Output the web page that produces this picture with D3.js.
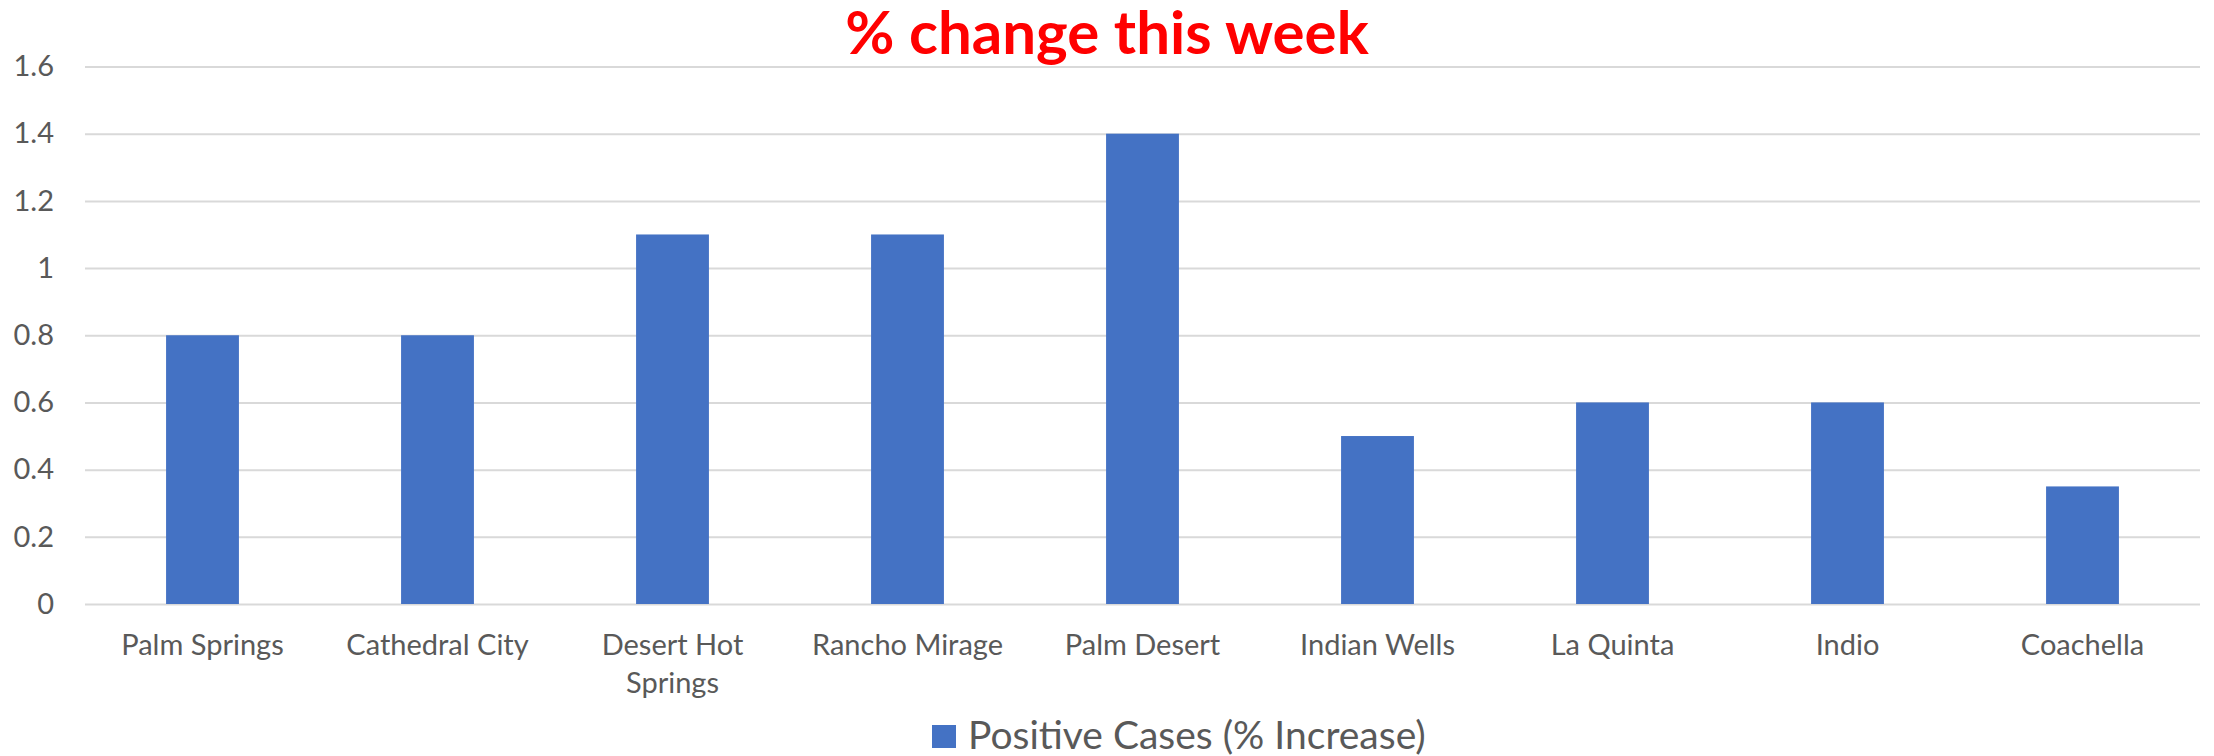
<!DOCTYPE html>
<html>
<head>
<meta charset="utf-8">
<script src="https://d3js.org/d3.v7.min.js"></script>
<style>
body { margin: 0; background: #fff; }
</style>
</head>
<body>
<script>
//chart data
var cities = ["Palm Springs", "Cathedral City", "Desert Hot Springs", "Rancho Mirage",
              "Palm Desert", "Indian Wells", "La Quinta", "Indio", "Coachella"];
var positiveCases = [0.8, 0.8, 1.1, 1.1, 1.4, 0.5, 0.6, 0.6, 0.35];
var yTicks = [0, 0.2, 0.4, 0.6, 0.8, 1, 1.2, 1.4, 1.6];
var title = "% change this week";
var seriesName = "Positive Cases (% Increase)";

//note: don't call these top/left, window.top is read only
var width = 2214, height = 756;
var plotLeft = 85, plotRight = 2200, plotTop = 66.5, plotBottom = 604;
var font = "Lato, 'Open Sans', sans-serif";

var svg = d3.select("body").append("svg")
    .attr("width", width)
    .attr("height", height);

var x = d3.scaleBand()
    .domain(cities)
    .range([plotLeft, plotRight])
    .paddingInner(0.69)
    .paddingOuter(0.345);

var y = d3.scaleLinear()
    .domain([0, 1.6])
    .range([plotBottom, plotTop]);

//gridlines + y labels
var yAxis = d3.axisLeft(y)
    .tickValues(yTicks)
    .tickSize(-(plotRight - plotLeft))
    .tickPadding(31)
    .tickFormat(function(d) { return d; });

var gy = svg.append("g")
    .attr("transform", "translate(" + plotLeft + ",0)")
    .call(yAxis);
gy.select(".domain").remove();
gy.selectAll("line").attr("stroke", "#d9d9d9").attr("stroke-width", 2);
gy.selectAll("text")
    .attr("fill", "#595959")
    .attr("font-family", font)
    .attr("font-size", "29px");

//bars
svg.selectAll("rect.bar")
    .data(positiveCases)
    .enter()
    .append("rect")
    .attr("class", "bar")
    .attr("x", function(d, i) { return x(cities[i]); })
    .attr("width", x.bandwidth())
    .attr("y", function(d) { return y(d); })
    .attr("height", function(d) { return y(0) - y(d); })
    .attr("fill", "#4472c4");

//x labels, wrapped like excel does for the long one
var wrap = { "Desert Hot Springs": ["Desert Hot", "Springs"] };
var xAxis = d3.axisBottom(x).tickSize(0).tickPadding(0);
var gx = svg.append("g")
    .attr("transform", "translate(0," + plotBottom + ")")
    .call(xAxis);
gx.select(".domain").remove();
gx.selectAll("text")
    .attr("fill", "#595959")
    .attr("font-family", font)
    .attr("font-size", "29px")
    .attr("dy", null)
    .attr("y", 51)
    .each(function(d) {
        var lines = wrap[d];
        if (!lines) return;
        var t = d3.select(this).text(null);
        lines.forEach(function(l, i) {
            t.append("tspan").attr("x", 0).attr("y", 51 + i * 38).text(l);
        });
    });

//title
svg.append("text")
    .attr("x", width / 2)
    .attr("y", 54)
    .attr("text-anchor", "middle")
    .attr("fill", "#ff0000")
    .attr("font-family", font)
    .attr("font-weight", "bold")
    .attr("font-size", "60px")
    .text(title);

//legend
svg.append("rect")
    .attr("x", 932).attr("y", 725)
    .attr("width", 24).attr("height", 23)
    .attr("fill", "#4472c4");
svg.append("text")
    .attr("x", 968)
    .attr("y", 749)
    .attr("fill", "#595959")
    .attr("font-family", font)
    .attr("font-size", "39px")
    .text(seriesName);
</script>
</body>
</html>
